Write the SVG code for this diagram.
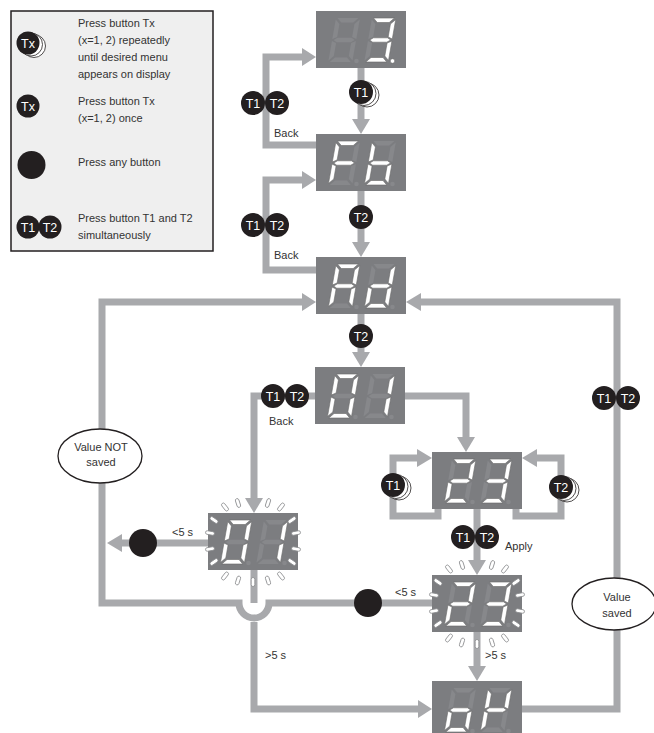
<svg xmlns="http://www.w3.org/2000/svg" width="654" height="733" viewBox="0 0 654 733">
<style>
.t{font-family:"Liberation Sans",Arial,sans-serif;font-size:11px;fill:#333}
.bt{font-family:"Liberation Sans",Arial,sans-serif;font-size:12.5px;fill:#fff;text-anchor:middle}
.ct{text-anchor:middle}
.cn{fill:none;stroke:#a8a9ac;stroke-width:7}
.ah{fill:#a8a9ac}
.btn{fill:#231f20}
.ring{fill:#fff;stroke:#231f20;stroke-width:0.8}
.box{fill:#7c7d80}
.on{fill:#fff;stroke:#6a6a6a;stroke-width:0.6}
.off{fill:#87888b}
.ray{fill:#fff;stroke:#8a8b8e;stroke-width:0.8}
.ell{fill:#fff;stroke:#231f20;stroke-width:1.3}
</style>
<defs>
<polygon id="sa" points="1.5,0 22.5,0 18,4.5 6,4.5"/>
<polygon id="sb" points="24,1.5 24,21 19.5,19 19.5,6"/>
<polygon id="sc" points="24,23 24,42.5 19.5,38 19.5,25"/>
<polygon id="sd" points="1.5,44 22.5,44 18,39.5 6,39.5"/>
<polygon id="se" points="0,23 4.5,25 4.5,38 0,42.5"/>
<polygon id="sf" points="0,1.5 4.5,6 4.5,19 0,21"/>
<polygon id="sg" points="1.5,22 5,19.8 19,19.8 22.5,22 19,24.2 5,24.2"/>
<g id="d8"><use href="#sa"/><use href="#sb"/><use href="#sc"/><use href="#sd"/><use href="#se"/><use href="#sf"/><use href="#sg"/></g>
<rect id="ray" x="-1.8" y="-4.5" width="3.6" height="9" rx="1.8"/>
<g id="rays">
<use href="#ray" class="ray" transform="translate(17,-6) rotate(-38)"/>
<use href="#ray" class="ray" transform="translate(30,-10) rotate(-18)"/>
<use href="#ray" class="ray" transform="translate(60,-10) rotate(18)"/>
<use href="#ray" class="ray" transform="translate(73,-6) rotate(38)"/>
<use href="#ray" class="ray" transform="translate(17,63) rotate(38)"/>
<use href="#ray" class="ray" transform="translate(30,67.5) rotate(18)"/>
<use href="#ray" class="ray" transform="translate(45,69)"/>
<use href="#ray" class="ray" transform="translate(60,67.5) rotate(-18)"/>
<use href="#ray" class="ray" transform="translate(73,63) rotate(-38)"/>
<use href="#ray" class="ray" transform="translate(6,7) rotate(-55)"/>
<use href="#ray" class="ray" transform="translate(2,20) rotate(-80)"/>
<use href="#ray" class="ray" transform="translate(2,36) rotate(80)"/>
<use href="#ray" class="ray" transform="translate(6,49) rotate(55)"/>
<use href="#ray" class="ray" transform="translate(84,7) rotate(55)"/>
<use href="#ray" class="ray" transform="translate(88,20) rotate(80)"/>
<use href="#ray" class="ray" transform="translate(88,36) rotate(-80)"/>
<use href="#ray" class="ray" transform="translate(84,49) rotate(-55)"/>
</g>
</defs>

<g id="legend">
<rect x="11" y="11" width="202" height="240" fill="#efefef" stroke="#231f20" stroke-width="1.5"/>
<g transform="translate(28,43)"><circle cx="6" cy="3" r="11.5" class="ring"/><circle cx="3" cy="1.5" r="11.5" class="ring"/><circle r="11.5" class="btn"/><text class="bt" y="4.5">Tx</text></g>
<text class="t" x="78" y="27">Press button Tx</text>
<text class="t" x="78" y="44">(x=1, 2) repeatedly</text>
<text class="t" x="78" y="61">until desired menu</text>
<text class="t" x="78" y="78">appears on display</text>
<g transform="translate(28,106)"><circle r="11.5" class="btn"/><text class="bt" y="4.5">Tx</text></g>
<text class="t" x="78" y="105">Press button Tx</text>
<text class="t" x="78" y="122">(x=1, 2) once</text>
<circle cx="31.5" cy="165" r="14" class="btn"/>
<text class="t" x="78" y="166">Press any button</text>
<g transform="translate(28,227)"><circle r="11.5" class="btn"/><text class="bt" y="4.5">T1</text><circle cx="22" r="11.5" class="btn"/><text class="bt" x="22" y="4.5">T2</text></g>
<text class="t" x="78" y="222">Press button T1 and T2</text>
<text class="t" x="78" y="239">simultaneously</text>
</g>

<g id="connectors">
<path class="cn" d="M361,68 V119"/><polygon class="ah" points="352,119 370,119 361,134"/>
<path class="cn" d="M316,145 H266 V57 H302"/><polygon class="ah" points="302,48 302,66 316,57"/>
<path class="cn" d="M361,191 V242"/><polygon class="ah" points="352,242 370,242 361,257"/>
<path class="cn" d="M316,270 H266 V180 H302"/><polygon class="ah" points="302,171 302,189 316,180"/>
<path class="cn" d="M361,314 V352"/><polygon class="ah" points="352,352 370,352 361,367"/>
<path class="cn" d="M315,396 H254 V498"/><polygon class="ah" points="245,498 263,498 254,513"/>
<path class="cn" d="M405,396 H466 V437"/><polygon class="ah" points="457,437 475,437 466,452"/>
<path class="cn" d="M438,509 V516 H393 V458 H417"/><polygon class="ah" points="417,449 417,467 432,458"/>
<path class="cn" d="M516,509 V516 H561 V458 H537"/><polygon class="ah" points="537,449 537,467 522,458"/>
<path class="cn" d="M477,509 V560"/><polygon class="ah" points="468,560 486,560 477,575"/>
<path class="cn" d="M208,543 H122"/><polygon class="ah" points="122,534 122,552 107,543"/>
<path class="cn" d="M254,570 V603"/>
<path class="cn" d="M254,622 V709 H418"/><polygon class="ah" points="418,700 418,718 432,709"/>
<path class="cn" d="M432,603 H269 A15,15 0 0 1 239,603 H102 V302 H302"/><polygon class="ah" points="302,293 302,311 316,302"/>
<path class="cn" d="M477,632 V666"/><polygon class="ah" points="468,666 486,666 477,681"/>
<path class="cn" d="M522,709 H617 V302 H421"/><polygon class="ah" points="421,293 421,311 406,302"/>
</g>

<g id="labels">
<text class="t" x="274" y="137">Back</text>
<text class="t" x="274" y="259">Back</text>
<text class="t" x="269" y="425">Back</text>
<text class="t" x="172" y="536">&lt;5 s</text>
<text class="t" x="395" y="596">&lt;5 s</text>
<text class="t" x="265" y="659">&gt;5 s</text>
<text class="t" x="485" y="659">&gt;5 s</text>
<text class="t" x="505" y="550">Apply</text>
</g>

<g id="buttons">
<g transform="translate(361,92)"><circle cx="6" cy="3" r="12" class="ring"/><circle cx="3" cy="1.5" r="12" class="ring"/><circle r="12" class="btn"/><text class="bt" y="4.5">T1</text></g>
<g transform="translate(253,103)"><circle r="12" class="btn"/><text class="bt" y="4.5">T1</text><circle cx="24" r="12" class="btn"/><text class="bt" x="24" y="4.5">T2</text></g>
<g transform="translate(361,217)"><circle r="12" class="btn"/><text class="bt" y="4.5">T2</text></g>
<g transform="translate(253,225)"><circle r="12" class="btn"/><text class="bt" y="4.5">T1</text><circle cx="24" r="12" class="btn"/><text class="bt" x="24" y="4.5">T2</text></g>
<g transform="translate(361,336)"><circle r="12" class="btn"/><text class="bt" y="4.5">T2</text></g>
<g transform="translate(273,396)"><circle r="12" class="btn"/><text class="bt" y="4.5">T1</text><circle cx="24" r="12" class="btn"/><text class="bt" x="24" y="4.5">T2</text></g>
<g transform="translate(604,398)"><circle r="12" class="btn"/><text class="bt" y="4.5">T1</text><circle cx="24" r="12" class="btn"/><text class="bt" x="24" y="4.5">T2</text></g>
<g transform="translate(393,485)"><circle cx="6" cy="3" r="12" class="ring"/><circle cx="3" cy="1.5" r="12" class="ring"/><circle r="12" class="btn"/><text class="bt" y="4.5">T1</text></g>
<g transform="translate(561,487)"><circle cx="6" cy="3" r="12" class="ring"/><circle cx="3" cy="1.5" r="12" class="ring"/><circle r="12" class="btn"/><text class="bt" y="4.5">T2</text></g>
<g transform="translate(463,537)"><circle r="12" class="btn"/><text class="bt" y="4.5">T1</text><circle cx="24" r="12" class="btn"/><text class="bt" x="24" y="4.5">T2</text></g>
<circle cx="143" cy="543" r="14" class="btn"/>
<circle cx="368" cy="603" r="14" class="btn"/>
</g>

<g id="note-not-saved"><ellipse class="ell" cx="100" cy="456" rx="42" ry="27"/><text class="t ct" x="101" y="451">Value NOT</text><text class="t ct" x="101" y="466">saved</text></g>
<g id="note-saved"><ellipse class="ell" cx="614" cy="604" rx="42" ry="26"/><text class="t ct" x="617" y="601">Value</text><text class="t ct" x="617" y="617">saved</text></g>

<g id="n-3" transform="translate(316,11)">
<rect class="box" width="90" height="57"/>
<g transform="translate(20,7) skewX(-10)"><use href="#d8" class="off"/></g>
<g transform="translate(56,7) skewX(-10)"><use href="#d8" class="off"/><use href="#sa" class="on"/><use href="#sb" class="on"/><use href="#sg" class="on"/><use href="#sc" class="on"/><use href="#sd" class="on"/></g>
<circle class="off" cx="40.5" cy="50" r="2.3"/><circle class="on" cx="76.5" cy="50" r="2.3"/>
</g>

<g id="n-Fb" transform="translate(316,134)">
<rect class="box" width="90" height="57"/>
<g transform="translate(20,7) skewX(-10)"><use href="#d8" class="off"/><use href="#sa" class="on"/><use href="#sf" class="on"/><use href="#se" class="on"/><use href="#sg" class="on"/></g>
<g transform="translate(56,7) skewX(-10)"><use href="#d8" class="off"/><use href="#sf" class="on"/><use href="#se" class="on"/><use href="#sg" class="on"/><use href="#sc" class="on"/><use href="#sd" class="on"/></g>
<circle class="off" cx="40.5" cy="50" r="2.3"/><circle class="off" cx="76.5" cy="50" r="2.3"/>
</g>

<g id="n-Ad" transform="translate(316,257)">
<rect class="box" width="90" height="57"/>
<g transform="translate(20,7) skewX(-10)"><use href="#d8" class="off"/><use href="#sa" class="on"/><use href="#sb" class="on"/><use href="#sc" class="on"/><use href="#se" class="on"/><use href="#sf" class="on"/><use href="#sg" class="on"/></g>
<g transform="translate(56,7) skewX(-10)"><use href="#d8" class="off"/><use href="#sb" class="on"/><use href="#sc" class="on"/><use href="#sd" class="on"/><use href="#se" class="on"/><use href="#sg" class="on"/></g>
<circle class="off" cx="40.5" cy="50" r="2.3"/><circle class="off" cx="76.5" cy="50" r="2.3"/>
</g>

<g id="n-01" transform="translate(315,367)">
<rect class="box" width="90" height="57"/>
<g transform="translate(20,7) skewX(-10)"><use href="#d8" class="off"/><use href="#sa" class="on"/><use href="#sb" class="on"/><use href="#sc" class="on"/><use href="#sd" class="on"/><use href="#se" class="on"/><use href="#sf" class="on"/></g>
<g transform="translate(56,7) skewX(-10)"><use href="#d8" class="off"/><use href="#sb" class="on"/><use href="#sc" class="on"/></g>
<circle class="off" cx="40.5" cy="50" r="2.3"/><circle class="off" cx="76.5" cy="50" r="2.3"/>
</g>

<g id="n-23" transform="translate(432,452)">
<rect class="box" width="90" height="57"/>
<g transform="translate(20,7) skewX(-10)"><use href="#d8" class="off"/><use href="#sa" class="on"/><use href="#sb" class="on"/><use href="#sg" class="on"/><use href="#se" class="on"/><use href="#sd" class="on"/></g>
<g transform="translate(56,7) skewX(-10)"><use href="#d8" class="off"/><use href="#sa" class="on"/><use href="#sb" class="on"/><use href="#sg" class="on"/><use href="#sc" class="on"/><use href="#sd" class="on"/></g>
<circle class="off" cx="40.5" cy="50" r="2.3"/><circle class="off" cx="76.5" cy="50" r="2.3"/>
</g>

<g id="n-01-flash" transform="translate(208,513)">
<rect class="box" width="90" height="57"/>
<g transform="translate(20,7) skewX(-10)"><use href="#d8" class="off"/><use href="#sa" class="on"/><use href="#sb" class="on"/><use href="#sc" class="on"/><use href="#sd" class="on"/><use href="#se" class="on"/><use href="#sf" class="on"/></g>
<g transform="translate(56,7) skewX(-10)"><use href="#d8" class="off"/><use href="#sb" class="on"/><use href="#sc" class="on"/></g>
<circle class="off" cx="40.5" cy="50" r="2.3"/><circle class="off" cx="76.5" cy="50" r="2.3"/>
<use href="#rays"/>
</g>

<g id="n-23-flash" transform="translate(432,575)">
<rect class="box" width="90" height="57"/>
<g transform="translate(20,7) skewX(-10)"><use href="#d8" class="off"/><use href="#sa" class="on"/><use href="#sb" class="on"/><use href="#sg" class="on"/><use href="#se" class="on"/><use href="#sd" class="on"/></g>
<g transform="translate(56,7) skewX(-10)"><use href="#d8" class="off"/><use href="#sa" class="on"/><use href="#sb" class="on"/><use href="#sg" class="on"/><use href="#sc" class="on"/><use href="#sd" class="on"/></g>
<circle class="off" cx="40.5" cy="50" r="2.3"/><circle class="off" cx="76.5" cy="50" r="2.3"/>
<use href="#rays"/>
</g>

<g id="n-oK" transform="translate(432,681)">
<rect class="box" width="90" height="57"/>
<g transform="translate(20,7) skewX(-10)"><use href="#d8" class="off"/><use href="#sc" class="on"/><use href="#sd" class="on"/><use href="#se" class="on"/><use href="#sg" class="on"/></g>
<g transform="translate(56,7) skewX(-10)"><use href="#d8" class="off"/><use href="#sf" class="on"/><use href="#se" class="on"/><use href="#sg" class="on"/><use href="#sb" class="on"/></g>
<circle class="off" cx="40.5" cy="50" r="2.3"/><circle class="off" cx="76.5" cy="50" r="2.3"/>
</g>
</svg>
